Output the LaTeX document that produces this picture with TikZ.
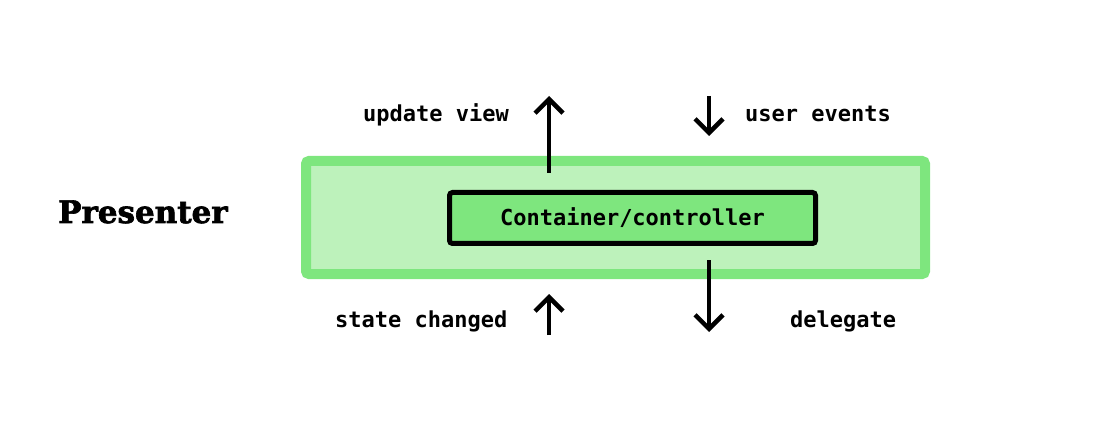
\documentclass[tikz,border=0pt]{standalone}
\usepackage{fontspec}
\setmonofont{DejaVu Sans Mono}
\newfontfamily\titlefont[BoldFeatures={FakeBold=2.2}]{DejaVu Serif}
\usepackage{tikz}
\usetikzlibrary{arrows.meta,positioning}
\usepackage{xcolor}
\definecolor{presgreen}{HTML}{7EE67E}
\definecolor{presfill}{HTML}{BDF2BB}
\tikzset{
  outerbox/.style={draw=presgreen, fill=presfill, line width=10pt, rounded corners=3pt, minimum width=619pt, minimum height=113pt, inner sep=0pt},
  ctrlbox/.style={draw=black, fill=presgreen, line width=5pt, rounded corners=3pt, minimum width=366pt, minimum height=51pt, inner sep=0pt, font=\ttfamily\bfseries\fontsize{22}{26}\selectfont},
  flowlabel/.style={anchor=base west, inner sep=0pt, font=\ttfamily\bfseries\fontsize{22}{26}\selectfont},
  titlelabel/.style={anchor=base west, inner sep=0pt, font=\titlefont\bfseries\fontsize{31}{37}\selectfont},
  flowarrow/.style={-{Straight Barb[length=14pt,width=28pt]}, line width=4.5pt}
}
\begin{document}
\begin{tikzpicture}[x=1pt, y=-1pt]
\useasboundingbox (0,0) rectangle (1094,430);
\node[outerbox] (presenter) at (615.5,217.5) {};
\node[ctrlbox] (controller) at (632.5,218) {Container/controller};
\node[titlelabel] (title) at (58,223) {Presenter};
% arrow end points
\coordinate (uvfrom) at (549,173);
\coordinate (uvto) at (549,96);
\coordinate (uefrom) at (709,96);
\coordinate (ueto) at (709,136);
\coordinate (scfrom) at (549,335);
\coordinate (scto) at (549,294);
\coordinate (dgfrom) at (709,260);
\coordinate (dgto) at (709,332);
\draw[flowarrow] (uvfrom) -- (uvto);
\draw[flowarrow] (uefrom) -- (ueto);
\draw[flowarrow] (scfrom) -- (scto);
\draw[flowarrow] (dgfrom) -- (dgto);
\node[flowlabel] (updateview) at (363,122) {update view};
\node[flowlabel] (userevents) at (745,122) {user events};
\node[flowlabel] (statechanged) at (335,327) {state changed};
\node[flowlabel] (delegate) at (790,327) {delegate};
\end{tikzpicture}
\end{document}
